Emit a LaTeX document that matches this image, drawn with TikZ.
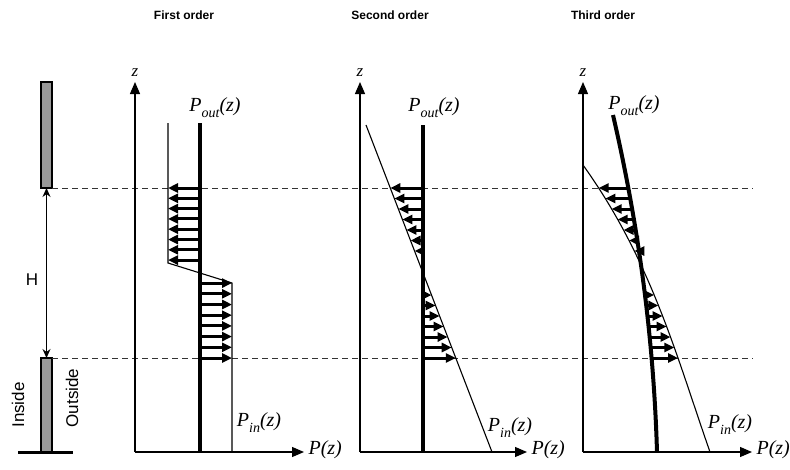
\documentclass[tikz,border=0pt]{standalone}
\usepackage{fontspec}
\setmainfont{Liberation Sans}
\newfontfamily\tms{Liberation Serif}
\usetikzlibrary{arrows.meta}
\newcommand{\PoutLbl}{P\raisebox{-0.3em}{\fontsize{14pt}{14pt}\selectfont out}(z)}
\newcommand{\PinLbl}{P\raisebox{-0.3em}{\fontsize{14pt}{14pt}\selectfont in}(z)}
\begin{document}
\begin{tikzpicture}[x=1pt,y=-1pt,
  declare function={pinc(\u)=641+46.5*\u-9.281*\u*\u+2.218*\u*\u*\u;
                    poutc(\u)=641+14.17*\u-3*\u*\u;
                    pinb(\v)=366+0.3853*(\v-125);},
  axis/.style={line width=1.2pt,-{Triangle[length=12pt,width=10pt]}},
  dashline/.style={dash pattern=on 6pt off 4pt, line width=1pt, black!80},
  thinline/.style={line width=1.1pt},
  thickline/.style={line width=4pt},
  parr/.style={line width=3pt,-{Triangle[length=10pt,width=9pt]}},
  harr/.style={line width=1.2pt,{Stealth[length=9pt,width=8pt]}-{Stealth[length=9pt,width=8pt]}},
  wall/.style={fill=black!40, draw=black, line width=1.3pt},
  title/.style={font=\fontsize{12pt}{14pt}\selectfont\bfseries},
  sans/.style={font=\fontsize{17pt}{20pt}\selectfont},
  mlabel/.style={font=\fontsize{20pt}{24pt}\selectfont\tms\itshape},
  zlabel/.style={font=\fontsize{17pt}{20pt}\selectfont\tms\itshape},
]
\useasboundingbox (0,0) rectangle (790,469);

% titles
\node[title] (t1) at (184,15) {First order};
\node[title] (t2) at (390,15) {Second order};
\node[title] (t3) at (603,15) {Third order};

% wall
\draw[wall] (41,82) rectangle (52,188);
\draw[wall] (41,358) rectangle (52,452);
\draw[line width=3pt] (18,452) -- (73,452);
\coordinate (wtop) at (46.5,188);
\coordinate (wbot) at (46.5,358);
\draw[harr] (wtop) -- (wbot);
\node[sans] (H) at (32,280) {H};
\node[sans, rotate=90] (inside) at (18,405) {Inside};
\node[sans, rotate=90] (outside) at (72,398) {Outside};

% dashed levels
\draw[dashline] (52,188) -- (753,188);
\draw[dashline] (52,358) -- (753,358);

% ---------- panel 1 ----------
\coordinate (o1) at (135,452);
\coordinate (z1) at (135,82);
\coordinate (p1) at (304,452);
\draw[axis] (o1) -- (z1);
\draw[axis] (o1) -- (p1);
\node[zlabel] (zl1) at (135,73) {z};
\node[mlabel, anchor=west] (pl1) at (305,450) {P(z)};
\draw[thinline] (168,123) -- (168,263) -- (232,283) -- (232,452);
\foreach \k in {0,...,7} {
  \pgfmathsetmacro\yy{188+10.3*\k}
  \draw[parr] (200,\yy) -- (168,\yy);
}
\foreach \k in {0,...,7} {
  \pgfmathsetmacro\yy{358-10.7*\k}
  \draw[parr] (200,\yy) -- (232,\yy);
}
\draw[thickline] (200,123) -- (200,452);
\node[mlabel] (pout1) at (215,108) {\PoutLbl};
\node[mlabel] (pin1) at (259,423) {\PinLbl};

% ---------- panel 2 ----------
\coordinate (o2) at (360,452);
\coordinate (z2) at (360,82);
\coordinate (p2) at (527,452);
\draw[axis] (o2) -- (z2);
\draw[axis] (o2) -- (p2);
\node[zlabel] (zl2) at (360,73) {z};
\node[mlabel, anchor=west] (pl2) at (528,450) {P(z)};
\draw[thinline] (366,125) -- (492,452);
\foreach \k in {0,...,6} {
  \pgfmathsetmacro\yy{188+10.5*\k}
  \pgfmathsetmacro\xx{pinb(\yy)}
  \draw[parr] (423,\yy) -- (\xx,\yy);
}
\foreach \k in {0,...,6} {
  \pgfmathsetmacro\yy{358-10.5*\k}
  \pgfmathsetmacro\xx{pinb(\yy)}
  \draw[parr] (423,\yy) -- (\xx,\yy);
}
\draw[thickline] (423,125) -- (423,452);
\node[mlabel] (pout2) at (434,108) {\PoutLbl};
\node[mlabel] (pin2) at (510,428) {\PinLbl};

% ---------- panel 3 ----------
\coordinate (o3) at (583,452);
\coordinate (z3) at (583,82);
\coordinate (p3) at (752,452);
\draw[axis] (o3) -- (z3);
\draw[axis] (o3) -- (p3);
\node[zlabel] (zl3) at (583,73) {z};
\node[mlabel, anchor=west] (pl3) at (753,450) {P(z)};
\draw[thinline] plot[domain=-1:1.87, samples=60, variable=\u] ({pinc(\u)}, {265+100*\u});
\foreach \k in {0,...,6} {
  \pgfmathsetmacro\yy{188+10.5*\k}
  \pgfmathsetmacro\uu{(\yy-265)/100}
  \pgfmathsetmacro\xa{poutc(\uu)}
  \pgfmathsetmacro\xb{pinc(\uu)}
  \draw[parr] (\xa,\yy) -- (\xb,\yy);
}
\foreach \k in {0,...,6} {
  \pgfmathsetmacro\yy{358-10.5*\k}
  \pgfmathsetmacro\uu{(\yy-265)/100}
  \pgfmathsetmacro\xa{poutc(\uu)}
  \pgfmathsetmacro\xb{pinc(\uu)}
  \draw[parr] (\xa,\yy) -- (\xb,\yy);
}
\draw[thickline] plot[domain=-1.5:1.87, samples=60, variable=\u] ({poutc(\u)}, {265+100*\u});
\node[mlabel] (pout3) at (634,106) {\PoutLbl};
\node[mlabel] (pin3) at (730,425) {\PinLbl};
\end{tikzpicture}
\end{document}
